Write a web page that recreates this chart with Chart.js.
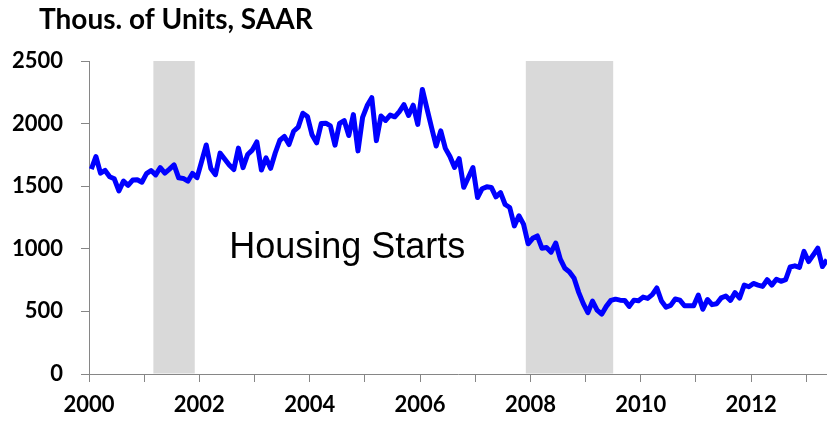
<!DOCTYPE html>
<html>
<head>
<meta charset="utf-8">
<script src="https://cdn.jsdelivr.net/npm/chart.js@4.4.1/dist/chart.umd.min.js"></script>
<style>
html,body{margin:0;padding:0;background:#ffffff;}
#wrap{position:relative;width:827px;height:422px;}
</style>
</head>
<body>
<div id="wrap"><canvas id="c" width="827" height="422"></canvas></div>
<script>
// ---- data ----
const startYear = 2000; // first month: Jan 2000, monthly through May 2013
const housingStarts = [
  1636,1737,1604,1626,1575,1559,1463,1541,1507,1549,1551,1532, // 2000
  1600,1625,1590,1649,1605,1636,1670,1567,1562,1540,1602,1568, // 2001
  1698,1829,1642,1592,1764,1717,1670,1633,1804,1648,1753,1788, // 2002
  1854,1629,1726,1643,1765,1867,1897,1833,1939,1972,2083,2057, // 2003
  1911,1846,2000,2003,1981,1828,2002,2024,1905,2072,1782,2050, // 2004
  2144,2207,1864,2061,2025,2068,2054,2095,2151,2065,2147,1994, // 2005
  2273,2119,1969,1821,1942,1802,1737,1650,1720,1491,1570,1649, // 2006
  1409,1480,1495,1490,1415,1448,1354,1330,1183,1264,1197,1040, // 2007
  1084,1103,1005,1010,973,1046,918,844,815,765,652,562,         // 2008
  490,582,510,478,540,588,598,590,588,540,590,585,              // 2009
  614,604,634,687,583,534,548,599,590,545,545,545,              // 2010
  630,517,595,554,561,608,623,588,650,607,711,697,              // 2011
  723,710,700,753,710,757,740,753,855,864,851,979,              // 2012
  898,950,1006,858,913                                          // 2013
];
const recessions = [[2001 + 2/12, 2001 + 11/12], [2007 + 11/12, 2009 + 6/12]];
const yTicks = [0, 500, 1000, 1500, 2000, 2500];
const xTickYears = [2000,2001,2002,2003,2004,2005,2006,2007,2008,2009,2010,2011,2012,2013];
const xLabelYears = [2000, 2002, 2004, 2006, 2008, 2010, 2012];
const titleText = 'Thous. of Units, SAAR';
const seriesName = 'Housing Starts';

// ---- styling ----
const axisColor = '#868686';
const tickFont = {family: 'Lato', weight: 'bold', size: 22};

const points = housingStarts.map((v, i) => ({x: startYear + (i + 0.5) / 12, y: v}));
const xMax = startYear + (housingStarts.length - 0.5) / 12;

const bgPlugin = {
  id: 'bg',
  beforeDraw(chart) {
    const ctx = chart.ctx;
    ctx.save();
    ctx.fillStyle = '#ffffff';
    ctx.fillRect(0, 0, chart.width, chart.height);
    ctx.restore();
  }
};

const recessionPlugin = {
  id: 'recessions',
  beforeDatasetsDraw(chart) {
    const {ctx, chartArea, scales} = chart;
    ctx.save();
    ctx.fillStyle = '#d9d9d9';
    recessions.forEach(([a, b]) => {
      const x1 = scales.x.getPixelForValue(a);
      const x2 = scales.x.getPixelForValue(b);
      ctx.fillRect(x1, chartArea.top, x2 - x1, chartArea.bottom - chartArea.top - 0.5);
    });
    ctx.restore();
  }
};

const textPlugin = {
  id: 'texts',
  afterDraw(chart) {
    const {ctx, scales} = chart;
    ctx.save();
    ctx.fillStyle = '#000000';
    ctx.textBaseline = 'alphabetic';
    ctx.textAlign = 'left';
    ctx.font = 'bold 28px Lato';
    ctx.fillText(titleText, 39, 28.5);
    ctx.font = '36px "Liberation Sans", Arial, sans-serif';
    ctx.fillText(seriesName, scales.x.getPixelForValue(2002.54), scales.y.getPixelForValue(929));
    ctx.restore();
  }
};

new Chart(document.getElementById('c'), {
  type: 'line',
  data: {
    datasets: [{
      label: seriesName,
      data: points,
      borderColor: '#0000ff',
      backgroundColor: '#0000ff',
      borderWidth: 5,
      pointRadius: 0,
      tension: 0,
      borderJoinStyle: 'round',
      fill: false
    }]
  },
  options: {
    responsive: false,
    devicePixelRatio: 1,
    animation: false,
    layout: {padding: {top: 61, left: 0, right: 0, bottom: 0}},
    plugins: {legend: {display: false}, tooltip: {enabled: false}, title: {display: false}},
    scales: {
      x: {
        type: 'linear',
        min: startYear,
        max: xMax,
        afterBuildTicks(scale) { scale.ticks = xTickYears.map(v => ({value: v})); },
        afterFit(scale) { scale.height = 48; },
        ticks: {
          autoSkip: false,
          maxRotation: 0,
          minRotation: 0,
          padding: 10,
          color: '#000000',
          font: tickFont,
          callback: (v) => xLabelYears.includes(v) ? String(v) : ''
        },
        grid: {display: true, drawOnChartArea: false, drawTicks: true, tickLength: 8, color: axisColor, lineWidth: 1},
        border: {display: true, color: axisColor, width: 1}
      },
      y: {
        type: 'linear',
        min: yTicks[0],
        max: yTicks[yTicks.length - 1],
        afterBuildTicks(scale) { scale.ticks = yTicks.map(v => ({value: v})); },
        afterFit(scale) { scale.width = 89; },
        ticks: {
          padding: 18,
          color: '#000000',
          font: tickFont,
          callback: (v) => String(v)
        },
        grid: {display: true, drawOnChartArea: false, drawTicks: true, tickLength: 8, color: axisColor, lineWidth: 1},
        border: {display: true, color: axisColor, width: 1}
      }
    }
  },
  plugins: [bgPlugin, recessionPlugin, textPlugin]
});
</script>
</body>
</html>
